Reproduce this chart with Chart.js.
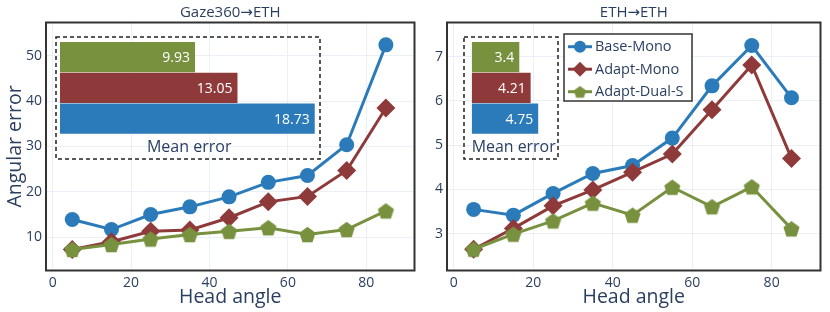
<!DOCTYPE html>
<html>
<head>
<meta charset="utf-8">
<script src="https://cdn.jsdelivr.net/npm/chart.js@4"></script>
<style>
  body { margin: 0; background: #fff; }
  #wrap { position: relative; width: 830px; height: 312px; overflow: hidden; }
  canvas { position: absolute; }
</style>
</head>
<body>
<div id="wrap">
  <canvas id="left" width="424" height="312" style="left:0;top:0"></canvas>
  <canvas id="right" width="406" height="312" style="left:424px;top:0"></canvas>
  <canvas id="leftMean" width="266" height="124" style="left:55px;top:36px"></canvas>
  <canvas id="rightMean" width="96" height="124" style="left:463px;top:36px"></canvas>
</div>
<script>
const angles = [5, 15, 25, 35, 45, 55, 65, 75, 85];
const seriesNames = ["Base-Mono", "Adapt-Mono", "Adapt-Dual-S"];

const gazeBase = [13.9, 11.7, 15.0, 16.7, 18.9, 22.1, 23.6, 30.4, 52.4];
const gazeAdapt = [7.3, 9.0, 11.3, 11.6, 14.3, 17.8, 19.0, 24.7, 38.5];
const gazeDual = [7.3, 8.4, 9.6, 10.6, 11.3, 12.1, 10.6, 11.7, 15.8];

const ethBase = [3.55, 3.42, 3.91, 4.36, 4.54, 5.16, 6.34, 7.25, 6.07];
const ethAdapt = [2.65, 3.12, 3.63, 3.99, 4.39, 4.80, 5.80, 6.81, 4.70];
const ethDual = [2.65, 2.99, 3.29, 3.69, 3.42, 4.05, 3.61, 4.06, 3.11];

// inset bars, top to bottom
const meanLabels = ["Adapt-Dual-S", "Adapt-Mono", "Base-Mono"];
const gazeMean = [9.93, 13.05, 18.73];
const ethMean = [3.4, 4.21, 4.75];

const xTicks = [0, 20, 40, 60, 80];
const gazeYTicks = [10, 20, 30, 40, 50];
const ethYTicks = [3, 4, 5, 6, 7];

const BLUE = "#2b7bba", RED = "#8f3a3a", GREEN = "#78913f";
const TEXT = "#2a3f5f", GRID = "#ebf0f8", FONT = "'Open Sans', 'DejaVu Sans'";

function pentagon(r, color) {
  const c = document.createElement("canvas");
  c.width = c.height = Math.ceil(2 * r + 2);
  const g = c.getContext("2d");
  g.fillStyle = color;
  g.beginPath();
  for (let i = 0; i < 5; i++) {
    const a = -Math.PI / 2 + i * 2 * Math.PI / 5;
    const px = c.width / 2 + r * Math.cos(a), py = c.height / 2 + r * Math.sin(a) + r * 0.1;
    i ? g.lineTo(px, py) : g.moveTo(px, py);
  }
  g.closePath();
  g.fill();
  return c;
}
const pentBig = pentagon(8.5, GREEN);
const pentSmall = pentagon(6.5, GREEN);

function pts(vals) { return vals.map((v, i) => ({ x: angles[i], y: v })); }

function lineSets(base, adapt, dual) {
  return [
    { label: seriesNames[0], data: pts(base), borderColor: BLUE, backgroundColor: BLUE,
      pointStyle: "circle", pointRadius: 7.5, borderWidth: 3, pointBorderWidth: 0, order: 2 },
    { label: seriesNames[1], data: pts(adapt), borderColor: RED, backgroundColor: RED,
      pointStyle: "rectRot", pointRadius: 9.5, borderWidth: 3, pointBorderWidth: 0, order: 1 },
    { label: seriesNames[2], data: pts(dual), borderColor: GREEN, backgroundColor: GREEN,
      pointStyle: pentBig, pointRadius: 8, borderWidth: 3, pointBorderWidth: 0, order: 0 }
  ];
}

const panelPlugin = {
  id: "panel",
  afterDatasetsDraw(chart, args, opts) {
    const a = chart.chartArea, ctx = chart.ctx;
    ctx.save();
    ctx.strokeStyle = "#333";
    ctx.lineWidth = 2;
    ctx.strokeRect(a.left, a.top, a.right - a.left, a.bottom - a.top);
    ctx.fillStyle = TEXT;
    ctx.font = "15px " + FONT;
    ctx.textAlign = "center";
    ctx.textBaseline = "middle";
    ctx.fillText(opts.text, (a.left + a.right) / 2, 12.5);
    ctx.restore();
  }
};

function drawMarker(ctx, ds, x, y) {
  ctx.fillStyle = ds.backgroundColor;
  if (ds.pointStyle === "circle") {
    ctx.beginPath(); ctx.arc(x, y, 6, 0, Math.PI * 2); ctx.fill();
  } else if (ds.pointStyle === "rectRot") {
    ctx.beginPath();
    ctx.moveTo(x, y - 7.5); ctx.lineTo(x + 7.5, y); ctx.lineTo(x, y + 7.5); ctx.lineTo(x - 7.5, y);
    ctx.closePath(); ctx.fill();
  } else {
    ctx.drawImage(pentSmall, x - pentSmall.width / 2, y - pentSmall.height / 2);
  }
}

const legendPlugin = {
  id: "boxLegend",
  afterDraw(chart, args, opts) {
    if (!opts.show) return;
    const ctx = chart.ctx;
    const x = 140, y = 34, w = 128, h = 67;
    ctx.save();
    ctx.fillStyle = "#fff";
    ctx.fillRect(x, y, w, h);
    ctx.strokeStyle = "#333";
    ctx.lineWidth = 1.5;
    ctx.strokeRect(x, y, w, h);
    ctx.font = "14.5px " + FONT;
    ctx.textBaseline = "middle";
    chart.data.datasets.forEach((ds, i) => {
      const cy = y + 12.7 + i * 22.5;
      ctx.strokeStyle = ds.borderColor;
      ctx.lineWidth = 3;
      ctx.beginPath(); ctx.moveTo(x + 4, cy); ctx.lineTo(x + 28, cy); ctx.stroke();
      drawMarker(ctx, ds, x + 16, cy);
      ctx.fillStyle = TEXT;
      ctx.fillText(ds.label, x + 31, cy + 0.5);
    });
    ctx.restore();
  }
};

function lineChart(id, sets, title, yMin, yMax, yTicks, yWidth, yTitle, padRight, legend) {
  return new Chart(document.getElementById(id), {
    type: "line",
    data: { datasets: sets },
    plugins: [panelPlugin, legendPlugin],
    options: {
      responsive: false,
      animation: false,
      layout: { padding: { top: 22.5, right: padRight, left: 0, bottom: 0 } },
      plugins: {
        legend: { display: false },
        tooltip: { enabled: false },
        panel: { text: title },
        boxLegend: { show: legend }
      },
      scales: {
        x: {
          type: "linear", min: -1.7, max: 92.3,
          afterBuildTicks: s => { s.ticks = xTicks.map(v => ({ value: v })); },
          afterFit: s => { s.height = 41.5; },
          grid: { color: GRID, lineWidth: 1, drawTicks: false },
          border: { display: false },
          ticks: { color: TEXT, font: { family: FONT, size: 14 }, padding: 4, maxRotation: 0 },
          title: { display: true, text: "Head angle", color: TEXT,
                   font: { family: FONT, size: 19.5 }, padding: { top: 0, bottom: 3 } }
        },
        y: {
          min: yMin, max: yMax,
          afterBuildTicks: s => { s.ticks = yTicks.map(v => ({ value: v })); },
          afterFit: s => { s.width = yWidth; },
          grid: { color: GRID, lineWidth: 1, drawTicks: false },
          border: { display: false },
          ticks: { color: TEXT, font: { family: FONT, size: 14 }, padding: 4 },
          title: { display: !!yTitle, text: yTitle, color: TEXT,
                   font: { family: FONT, size: 19.5 }, padding: { top: 4, bottom: 0 } }
        }
      }
    }
  });
}

const barLabelPlugin = {
  id: "barLabels",
  afterDatasetsDraw(chart) {
    const ctx = chart.ctx;
    const ds = chart.data.datasets[0];
    ctx.save();
    ctx.strokeStyle = "#222";
    ctx.lineWidth = 1.5;
    ctx.setLineDash([4, 3]);
    ctx.strokeRect(1, 1, chart.width - 2, chart.height - 2);
    ctx.setLineDash([]);
    ctx.fillStyle = "#fff";
    ctx.font = "14px " + FONT;
    ctx.textAlign = "right";
    ctx.textBaseline = "middle";
    chart.getDatasetMeta(0).data.forEach((bar, i) => {
      ctx.fillText(String(ds.data[i]), bar.x - 5, bar.y + 1);
    });
    ctx.restore();
  }
};

function meanChart(id, values, xMax, padLeft, padRight) {
  return new Chart(document.getElementById(id), {
    type: "bar",
    data: {
      labels: meanLabels,
      datasets: [{ data: values, backgroundColor: [GREEN, RED, BLUE],
                   barPercentage: 0.98, categoryPercentage: 1 }]
    },
    plugins: [barLabelPlugin],
    options: {
      indexAxis: "y",
      responsive: false,
      animation: false,
      layout: { padding: { top: 5.7, left: padLeft, right: padRight, bottom: 0 } },
      plugins: { legend: { display: false }, tooltip: { enabled: false } },
      scales: {
        x: {
          min: 0, max: xMax,
          afterFit: s => { s.height = 26; },
          grid: { display: false },
          border: { display: false },
          ticks: { display: false },
          title: { display: true, text: "Mean error", color: TEXT,
                   font: { family: FONT, size: 16 }, padding: { top: 0, bottom: 2.7 } }
        },
        y: { display: false }
      }
    }
  });
}

lineChart("left", lineSets(gazeBase, gazeAdapt, gazeDual), "Gaze360→ETH",
          2.67, 57.33, gazeYTicks, 46, "Angular error", 2, false);
lineChart("right", lineSets(ethBase, ethAdapt, ethDual), "ETH→ETH",
          2.17, 7.77, ethYTicks, 23, "", 7, true);
meanChart("leftMean", gazeMean, 19, 5, 2.6);
meanChart("rightMean", ethMean, 6, 8.7, 3.3);
</script>
</body>
</html>
